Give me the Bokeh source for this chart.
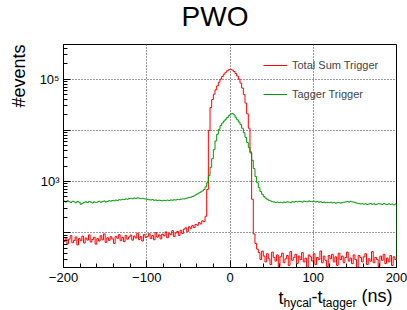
import numpy as np
from bokeh.plotting import figure
from bokeh.models import Range1d, FixedTicker, Label
from bokeh.embed import file_html
from bokeh.resources import INLINE

# ---- data: histogram bins of 2 ns from -200 to 200 ns ----
X_LO, X_HI, BIN_W = -200, 200, 2

total_sum = [
    68, 80, 61, 75, 88, 64, 71, 83, 58, 77,
    70, 86, 63, 79, 72, 91, 66, 74, 82, 60,
    77, 69, 88, 73, 95, 65, 80, 71, 84, 76,
    62, 85, 78, 92, 70, 81, 67, 89, 75, 83,
    90, 72, 86, 79, 98, 74, 84, 69, 93, 81,
    85, 96, 77, 88, 73, 101, 82, 91, 76, 94,
    87, 104, 80, 98, 92, 110, 84, 99, 106, 89,
    112, 97, 118, 125, 105, 131, 122, 138, 127, 146,
    140, 158, 149, 171, 165, 210, 700, 10000, 28000, 40000,
    51000, 62000, 74000, 87000, 100000, 113000, 125000, 136000, 146000, 153000,
    155000, 150000, 141000, 129000, 115000, 100000, 84000, 67000, 50000, 34000,
    21000, 11000, 3800, 450, 95, 62, 48, 41, 30, 44,
    35, 27, 39, 31, 24, 42, 33, 28, 37, 22,
    34, 40, 26, 31, 36, 23, 43, 29, 33, 38,
    25, 35, 30, 41, 27, 32, 21, 37, 34, 28,
    39, 24, 33, 30, 44, 26, 35, 29, 22, 36,
    31, 38, 27, 34, 23, 40, 30, 35, 26, 33,
    42, 28, 32, 25, 37, 30, 21, 36, 33, 27,
    34, 39, 24, 31, 28, 43, 26, 33, 30, 22,
    35, 29, 38, 25, 32, 27, 36, 23, 34, 30,
]

tagger = [
    415, 398, 422, 405, 390, 412, 401, 385, 408, 395,
    360, 378, 392, 404, 388, 410, 397, 383, 402, 391,
    399, 412, 394, 406, 418, 400, 410, 423, 415, 428,
    420, 435, 428, 442, 438, 450, 444, 458, 452, 466,
    470, 462, 478, 468, 482, 474, 465, 471, 460, 455,
    450, 442, 436, 445, 430, 438, 426, 433, 428, 421,
    430, 424, 435, 427, 438, 432, 441, 436, 447, 443,
    452, 460, 458, 470, 478, 486, 495, 510, 525, 548,
    575, 600, 625, 655, 700, 790, 950, 1300, 1900, 2800,
    4200, 6200, 8400, 10500, 12400, 13900, 15200, 16500, 17900, 19400,
    20800, 21300, 20200, 18000, 16100, 14500, 13000, 11000, 9000, 7300,
    5800, 4600, 3600, 2600, 1800, 1250, 950, 760, 640, 565,
    510, 475, 450, 430, 418, 405, 400, 392, 398, 388,
    394, 386, 399, 391, 402, 396, 388, 405, 398, 410,
    402, 412, 406, 398, 415, 409, 403, 418, 410, 405,
    412, 400, 408, 396, 404, 390, 398, 385, 393, 388,
    395, 383, 390, 378, 386, 392, 380, 388, 395, 402,
    408, 398, 412, 403, 395, 386, 378, 372, 365, 370,
    362, 368, 358, 365, 372, 360, 368, 355, 363, 370,
    366, 358, 372, 362, 356, 368, 360, 364, 352, 366,
]

series_names = ["Total Sum Trigger", "Tagger Trigger"]
series_colors = ["#ff0000", "#009900"]

x_ticks = [-200, -100, 0, 100, 200]
x_tick_labels = ["\u2212200", "\u2212100", "0", "100", "200"]
y_ticks = [100, 1000, 10000, 100000]
y_tick_labels = ["", "10\u00b3", "", "10\u2075"]

Y_MIN, Y_MAX = 21, 4.75e5
FONT = "Liberation Sans"

edges = np.arange(X_LO, X_HI + BIN_W, BIN_W)

p = figure(width=407, height=310, frame_width=333, frame_height=223,
           x_range=Range1d(X_LO, X_HI), y_range=Range1d(Y_MIN, Y_MAX),
           y_axis_type="log", output_backend="svg", toolbar_location=None,
           min_border_left=63, min_border_right=11, min_border_top=44,
           min_border_bottom=43)
p.background_fill_color = "white"
p.border_fill_color = "white"
p.outline_line_color = "black"
p.outline_line_width = 1
p.outline_line_alpha = 1

for vals, name, col in zip([total_sum, tagger], series_names, series_colors):
    ys = list(vals) + [1]
    p.step(edges, ys, mode="after", line_color=col, line_width=1,
           legend_label=name)

# axes
x_minor = [v for v in range(X_LO, X_HI + 1, 20) if v not in x_ticks]
y_minor = [d * m for d in (10, 100, 1000, 10000, 100000) for m in range(2, 10)
           if Y_MIN <= d * m <= Y_MAX]
p.xaxis.ticker = FixedTicker(ticks=x_ticks, minor_ticks=x_minor)
p.yaxis.ticker = FixedTicker(ticks=y_ticks, minor_ticks=y_minor)
p.xaxis.major_label_overrides = dict(zip(x_ticks, x_tick_labels))
p.yaxis.major_label_overrides = dict(zip(y_ticks, y_tick_labels))
for ax in (p.xaxis, p.yaxis):
    ax.axis_line_color = "black"
    ax.major_tick_line_color = "black"
    ax.minor_tick_line_color = "black"
    ax.major_tick_in = 7
    ax.major_tick_out = 0
    ax.minor_tick_in = 4
    ax.minor_tick_out = 0
    ax.major_label_text_font = FONT
    ax.major_label_text_font_size = "13px"
    ax.major_label_text_color = "black"
p.xaxis.major_label_standoff = 5
p.yaxis.major_label_standoff = 4

# grid
p.xgrid.ticker = FixedTicker(ticks=[-100, 0, 100])
p.ygrid.ticker = FixedTicker(ticks=y_ticks)
for g in (p.xgrid, p.ygrid):
    g.grid_line_color = "#333333"
    g.grid_line_dash = "1 2"
    g.grid_line_width = 1

# legend
lg = p.legend[0]
lg.location = (200, 163)
lg.padding = 0
lg.margin = 0
lg.spacing = 9
lg.label_height = 20
lg.glyph_height = 20
lg.glyph_width = 24
lg.label_standoff = 5
lg.label_text_font = FONT
lg.label_text_font_size = "11px"
lg.background_fill_alpha = 0
lg.border_line_alpha = 0

# title and axis titles in the side panels (not clipped to the frame)
def add_label(side, x, y, text, size, angle=0, align="left"):
    p.add_layout(Label(x=x, y=y, x_units="screen", y_units="screen", text=text,
                       text_font=FONT, text_font_size=size, angle=angle,
                       text_align=align, text_baseline="alphabetic",
                       text_color="black"), side)

add_label("above", 151.5, 28, "PWO", "28px", align="center")
add_label("left", 2, 223, "#events", "18px", angle=np.pi / 2, align="right")
# each label in the "below" side gets its own stacked slot; offsets compensate
add_label("below", 215, 7, "t", "18px")
add_label("below", 248, 28, "-t", "18px")
add_label("below", 298, 49, "(ns)", "18px")
add_label("below", 220, 55.5, "hycal", "12px")
add_label("below", 259, 69.5, "tagger", "12px")

open("out.html", "w").write(file_html(p, INLINE))
